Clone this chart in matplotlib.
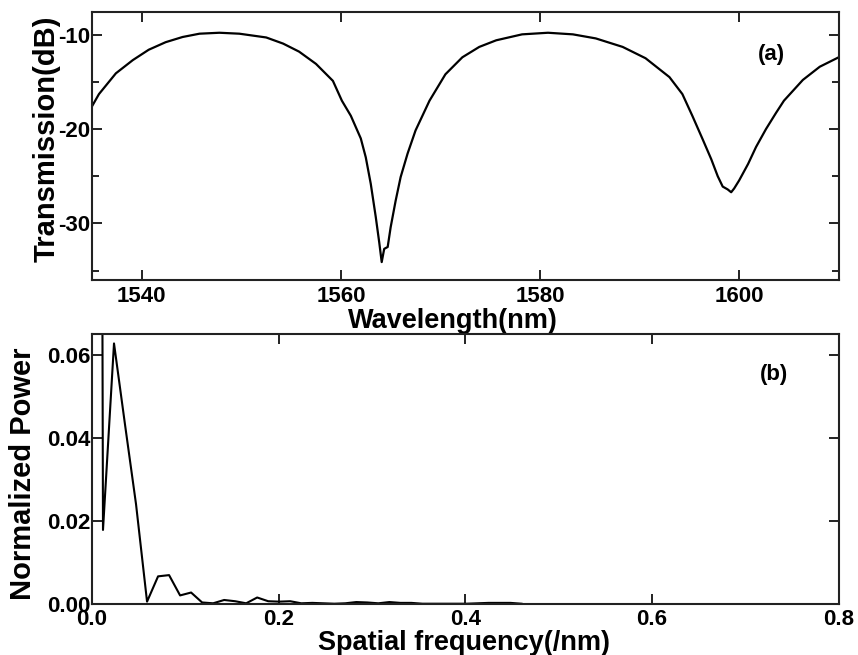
#!/usr/bin/env python3

import numpy as np
import matplotlib

matplotlib.use("Agg")
import matplotlib.pyplot as plt
from matplotlib.ticker import MultipleLocator, FormatStrFormatter

# ...Transmission spectrum (wavelength in nm, transmission in dB)
wavelength = [
    1535.0, 1535.7, 1537.4, 1539.1, 1540.7, 1542.4, 1544.1, 1545.8, 1547.8,
    1549.8, 1552.5, 1554.2, 1555.8, 1557.5, 1559.2, 1560.1, 1561.0, 1562.0,
    1562.5, 1563.0, 1563.5, 1563.85, 1564.1, 1564.35, 1564.7, 1565.0,
    1565.5, 1566.0, 1566.7, 1567.5, 1568.9, 1570.5, 1572.2, 1573.9, 1575.6,
    1578.2, 1580.8, 1583.3, 1585.6, 1588.3, 1590.6, 1593.0, 1594.3, 1595.3,
    1596.3, 1597.2, 1597.85, 1598.35, 1598.85, 1599.2, 1599.5, 1600.0,
    1600.9, 1601.7, 1602.7, 1603.7, 1604.5, 1606.4, 1608.1, 1610.0,
]
transmission = [
    -17.6, -16.3, -14.1, -12.7, -11.6, -10.8, -10.25, -9.9, -9.8,
    -9.9, -10.3, -10.95, -11.8, -13.1, -14.9, -17.0, -18.6, -21.0,
    -23.0, -25.8, -29.3, -32.0, -34.1, -32.7, -32.5, -30.4,
    -27.6, -25.1, -22.6, -20.15, -17.0, -14.2, -12.4, -11.3, -10.6,
    -9.97, -9.8, -9.97, -10.4, -11.3, -12.5, -14.5, -16.3, -18.6,
    -21.0, -23.2, -25.0, -26.1, -26.4, -26.7, -26.3, -25.45,
    -23.7, -21.9, -20.0, -18.3, -17.0, -14.8, -13.4, -12.4,
]

# ...Spatial frequency spectrum (1/nm, normalized power)
spatial_freq = [
    0.0, 0.0118, 0.0236, 0.0354, 0.0472, 0.0590, 0.0708, 0.0826, 0.0944,
    0.1062, 0.1180, 0.1298, 0.1416, 0.1534, 0.1652, 0.1770, 0.1888, 0.2006,
    0.2124, 0.2242, 0.2360, 0.2478, 0.2596, 0.2714, 0.2832, 0.2950, 0.3068,
    0.3186, 0.3304, 0.3422, 0.3540, 0.3658, 0.3776, 0.3894, 0.4012, 0.4130,
    0.4248, 0.4366, 0.4484, 0.4602,
]
norm_power = [
    1.0, 0.0178, 0.0628, 0.0432, 0.0240, 0.0005, 0.0066, 0.0069, 0.0020,
    0.0027, 0.0003, 0.0001, 0.0009, 0.0006, 0.0001, 0.0015, 0.0006, 0.0005,
    0.0006, 0.0001, 0.0002, 0.0001, 0.0, 0.0001, 0.0004, 0.0003, 0.0001,
    0.0004, 0.0002, 0.0002, 0.0, 0.0, 0.0, 0.0, 0.0, 0.0001,
    0.0002, 0.0002, 0.0002, 0.0,
]

FONT = "Liberation Sans"
TICK_SIZE = 16
XLABEL_SIZE = 19.5
YLABEL_SIZE = 21


def style_axes(ax):
    for sp in ax.spines.values():
        sp.set_linewidth(1.5)
        sp.set_color("#222222")
    ax.tick_params(
        which="both", direction="in", top=True, right=True,
        width=1.4, color="#222222", labelsize=TICK_SIZE,
    )
    ax.tick_params(which="major", length=7)
    ax.tick_params(which="minor", length=5)
    ax.tick_params(axis="x", pad=4)
    ax.tick_params(axis="y", pad=1)
    for lbl in ax.get_xticklabels() + ax.get_yticklabels():
        lbl.set_fontweight("bold")
        lbl.set_fontfamily(FONT)


def main():
    plt.rcParams["font.family"] = FONT
    plt.rcParams["font.weight"] = "bold"
    plt.rcParams["axes.unicode_minus"] = False

    fig = plt.figure(figsize=(8.58, 6.55), dpi=100)

    # ...Top panel: transmission spectrum
    ax1 = fig.add_axes([0.1072, 0.5725, 0.8703, 0.4092])
    ax1.plot(wavelength, transmission, color="black", lw=1.6)
    ax1.set_xlim(1535, 1610)
    ax1.set_ylim(-36, -7.6)
    ax1.xaxis.set_major_locator(MultipleLocator(20))
    ax1.yaxis.set_major_locator(MultipleLocator(10))
    ax1.yaxis.set_minor_locator(MultipleLocator(5))
    style_axes(ax1)
    ax1.set_xlabel("Wavelength(nm)", fontsize=XLABEL_SIZE, fontweight="bold")
    ax1.set_ylabel("Transmission(dB)", fontsize=YLABEL_SIZE, fontweight="bold")
    ax1.xaxis.set_label_coords(0.483, -0.103)
    ax1.yaxis.set_label_coords(-0.042, 0.526)
    ax1.text(0.91, 0.84, "(a)", transform=ax1.transAxes, fontsize=16,
             fontweight="bold", ha="center", va="center")

    # ...Bottom panel: FFT of the spectrum
    ax2 = fig.add_axes([0.1072, 0.0783, 0.8703, 0.4113])
    ax2.plot(spatial_freq, norm_power, color="black", lw=1.5)
    ax2.set_xlim(0.0, 0.8)
    ax2.set_ylim(0.0, 0.065)
    ax2.xaxis.set_major_locator(MultipleLocator(0.2))
    ax2.yaxis.set_major_locator(MultipleLocator(0.02))
    ax2.xaxis.set_major_formatter(FormatStrFormatter("%.1f"))
    ax2.yaxis.set_major_formatter(FormatStrFormatter("%.2f"))
    style_axes(ax2)
    ax2.set_xlabel("Spatial frequency(/nm)", fontsize=XLABEL_SIZE, fontweight="bold")
    ax2.set_ylabel("Normalized Power", fontsize=YLABEL_SIZE, fontweight="bold")
    ax2.xaxis.set_label_coords(0.498, -0.096)
    ax2.yaxis.set_label_coords(-0.074, 0.481)
    ax2.text(0.914, 0.849, "(b)", transform=ax2.transAxes, fontsize=16,
             fontweight="bold", ha="center", va="center")

    fig.savefig("out.png", dpi=100)


if __name__ == "__main__":
    main()
